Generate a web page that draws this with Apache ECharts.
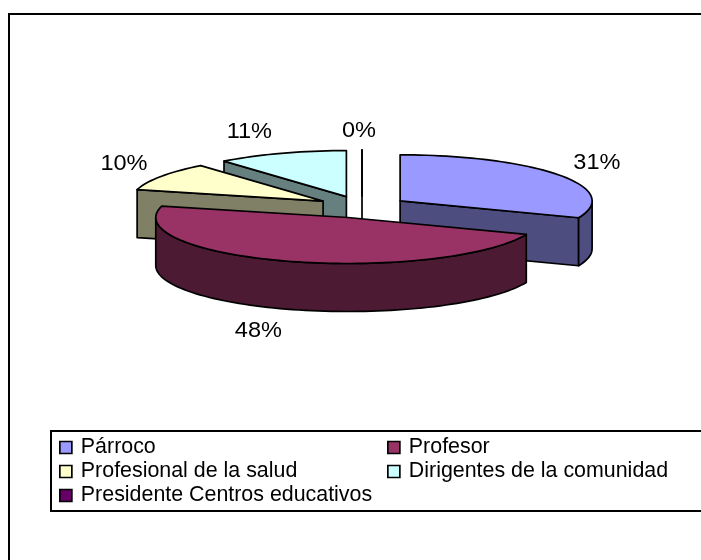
<!DOCTYPE html>
<html>
<head>
<meta charset="utf-8">
<script src="https://cdn.jsdelivr.net/npm/echarts@6/dist/echarts.min.js"></script>
<style>
  html, body { margin: 0; padding: 0; background: #fff; }
  #chart { width: 701px; height: 560px; }
</style>
</head>
<body>
<div id="chart"></div>
<script>
const categories = ["Párroco", "Profesor", "Profesional de la salud", "Dirigentes de la comunidad", "Presidente Centros educativos"];
const values = [31, 48, 10, 11, 0];
const topColors = ["#9999FF", "#993366", "#FFFFCC", "#CCFFFF", "#660066"];
const sideColors = ["#4D4D80", "#4D1A33", "#808066", "#668080", "#330033"];
const legendLeft = ["Párroco", "Profesional de la salud", "Presidente Centros educativos"];
const legendRight = ["Profesor", "Dirigentes de la comunidad"];
// back to front
const drawOrder = [3, 4, 2, 0, 1];

// pie geometry (an ellipse, every slice pushed out along its mid angle)
const cx = 362, cy = 207, rx = 192, ry = 46, depth = 48, explode = 0.24;
const labelOffset = [[38, -12], [-30, 22], [-37, -12], [-32, -21], [-3, -19]];

const total = values.reduce((a, b) => a + b, 0);
const startAngles = [];
values.reduce((acc, v, i) => {
  startAngles[i] = acc;
  return acc + (v / total) * 360;
}, 0);

const rad = (deg) => (deg * Math.PI) / 180;

const rimPoint = (ox, oy, deg, drop = 0) => [
  ox + rx * Math.sin(rad(deg)),
  oy - ry * Math.cos(rad(deg)) + drop,
];

const arcPoints = (ox, oy, from, to, drop = 0) => {
  const pts = [];
  const steps = Math.max(1, Math.ceil((to - from) / 2));
  for (let i = 0; i <= steps; i++) {
    pts.push(rimPoint(ox, oy, from + ((to - from) * i) / steps, drop));
  }
  return pts;
};

const poly = (points, fill) => ({
  type: "polygon",
  shape: { points },
  style: { fill, stroke: "#000", lineWidth: 1.7, lineJoin: "round" },
});

const sliceRenderer = (index) => (params, api) => {
  const value = api.value(0);
  const start = startAngles[index];
  const end = start + (value / total) * 360;
  const mid = (start + end) / 2;
  const ox = cx + explode * rx * Math.sin(rad(mid));
  const oy = cy - explode * ry * Math.cos(rad(mid));
  const side = sideColors[index];
  const children = [];

  const cutFace = (deg) => {
    const p = rimPoint(ox, oy, deg);
    return poly([[ox, oy], p, [p[0], p[1] + depth], [ox, oy + depth]], side);
  };
  if (value === 0 || Math.sin(rad(start)) < -1e-6) children.push(cutFace(start));
  if (Math.sin(rad(end)) > 1e-6) children.push(cutFace(end));

  const rimFrom = Math.max(start, 90);
  const rimTo = Math.min(end, 270);
  if (rimTo > rimFrom) {
    const front = arcPoints(ox, oy, rimFrom, rimTo);
    const back = arcPoints(ox, oy, rimFrom, rimTo, depth).reverse();
    children.push(poly(front.concat(back), side));
  }

  children.push(poly([[ox, oy]].concat(arcPoints(ox, oy, start, end)), topColors[index]));

  const anchor = rimPoint(ox, oy, mid, mid > 90 && mid < 270 ? depth : 0);
  children.push({
    type: "text",
    x: anchor[0] + labelOffset[index][0],
    y: anchor[1] + labelOffset[index][1],
    scaleX: 1.07,
    style: {
      text: Math.round((value / total) * 100) + "%",
      fontFamily: "Liberation Sans",
      fontSize: 22,
      fill: "#000",
      align: "center",
      verticalAlign: "middle",
    },
  });
  return { type: "group", children };
};

const legendStyle = {
  orient: "vertical",
  icon: "rect",
  selectedMode: false,
  itemWidth: 12,
  itemHeight: 12,
  itemGap: 3,
  padding: 0,
  top: 437,
  itemStyle: { borderColor: "#000", borderWidth: 1.7 },
  textStyle: {
    fontFamily: "Liberation Sans",
    fontSize: 21.4,
    lineHeight: 20,
    color: "#000",
    padding: [0, 0, 0, 4],
  },
};

const chart = echarts.init(document.getElementById("chart"), null, { renderer: "canvas" });
chart.setOption({
  animation: false,
  backgroundColor: "#fff",
  graphic: [
    {
      // chart frame runs off the right and bottom of the window
      type: "rect",
      z: -1,
      shape: { x: 9, y: 14, width: 760, height: 700 },
      style: { fill: "#fff", stroke: "#000", lineWidth: 2 },
    },
    {
      type: "rect",
      z: -1,
      shape: { x: 51, y: 431, width: 700, height: 80 },
      style: { fill: "#fff", stroke: "#000", lineWidth: 2 },
    },
  ],
  legend: [
    { ...legendStyle, left: 59, data: legendLeft },
    { ...legendStyle, left: 387, data: legendRight },
  ],
  series: drawOrder.map((i) => ({
    type: "custom",
    name: categories[i],
    coordinateSystem: "none",
    silent: true,
    itemStyle: { color: topColors[i] },
    renderItem: sliceRenderer(i),
    data: [[values[i]]],
  })),
});
</script>
</body>
</html>
